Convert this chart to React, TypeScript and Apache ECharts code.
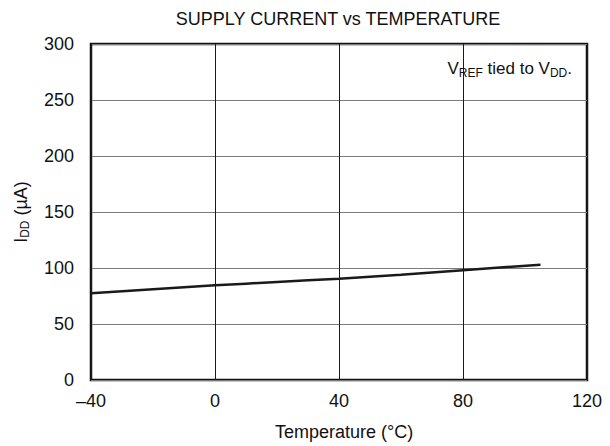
import React, { useEffect, useRef } from "react";
import * as echarts from "echarts";

const temps = [-40, -20, 0, 20, 40, 60, 80, 105];
const current = [77.5, 81, 84.5, 87.5, 90.5, 94, 98, 103];
const xTicks = [-40, 0, 40, 80, 120];
const yTicks = [0, 50, 100, 150, 200, 250, 300];

export default function App() {
  const ref = useRef<HTMLDivElement>(null);
  useEffect(() => {
    if (!ref.current) return;
    const chart = echarts.init(ref.current, undefined, { renderer: "svg" });
    const font = "Liberation Sans, Arial, sans-serif";
    chart.setOption({
      animation: false,
      textStyle: { fontFamily: font },
      title: {
        text: "SUPPLY CURRENT vs TEMPERATURE",
        left: 338,
        textAlign: "center",
        top: 10,
        padding: 0,
        textStyle: { fontFamily: font, fontSize: 18, fontWeight: "normal", color: "#111" },
      },
      grid: {
        left: 91,
        right: 23,
        top: 44,
        bottom: 66,
        show: true,
        borderColor: "#111",
        borderWidth: 2.5,
        backgroundColor: "transparent",
      },
      xAxis: {
        type: "value",
        min: xTicks[0],
        max: xTicks[xTicks.length - 1],
        interval: 40,
        name: "Temperature (°C)",
        nameLocation: "middle",
        nameGap: 43,
        nameTextStyle: { fontFamily: font, fontSize: 18, color: "#111", padding: [0, 0, 0, 10] },
        axisLine: { show: false },
        axisTick: { show: false },
        axisLabel: {
          margin: 12,
          fontSize: 18,
          color: "#111",
          fontFamily: font,
          formatter: (v: number) => String(v).replace("-", "\u2013"),
        },
        splitLine: { show: true, lineStyle: { color: "#1a1a1a", width: 1 } },
      },
      yAxis: {
        type: "value",
        min: yTicks[0],
        max: yTicks[yTicks.length - 1],
        interval: 50,
        name: "{m|I}{s|DD}{m| (µA)}",
        nameLocation: "middle",
        nameGap: 60,
        nameRotate: 90,
        nameTextStyle: {
          fontFamily: font,
          color: "#111",
          rich: {
            m: { fontSize: 18, fontFamily: font, color: "#111" },
            s: { fontSize: 12, fontFamily: font, color: "#111", verticalAlign: "bottom", padding: [8, 0, 0, 0] },
          },
        },
        axisLine: { show: false },
        axisTick: { show: false },
        axisLabel: { margin: 17, fontSize: 18, color: "#111", fontFamily: font },
        splitLine: { show: true, lineStyle: { color: "#7a7a7a", width: 1 } },
      },
      graphic: [
        {
          type: "text",
          right: 38,
          top: 60,
          style: {
            text: "{m|V}{s|REF}{m| tied to V}{s|DD}{m|.}",
            fill: "#111",
            font: "17px " + font,
            rich: {
              m: { fontSize: 17, fontFamily: font, fill: "#111" },
              s: { fontSize: 12, fontFamily: font, fill: "#111", verticalAlign: "bottom", padding: [8, 0, 0, 0] },
            },
          },
        },
      ],
      series: [
        {
          type: "line",
          data: temps.map((t, i) => [t, current[i]]),
          showSymbol: false,
          smooth: 0.3,
          lineStyle: { color: "#1a1a1a", width: 2.5 },
        },
      ],
    });
    return () => chart.dispose();
  }, []);
  return (
    <div
      ref={ref}
      style={{ position: "absolute", left: 0, top: 0, width: 610, height: 446 }}
    />
  );
}
